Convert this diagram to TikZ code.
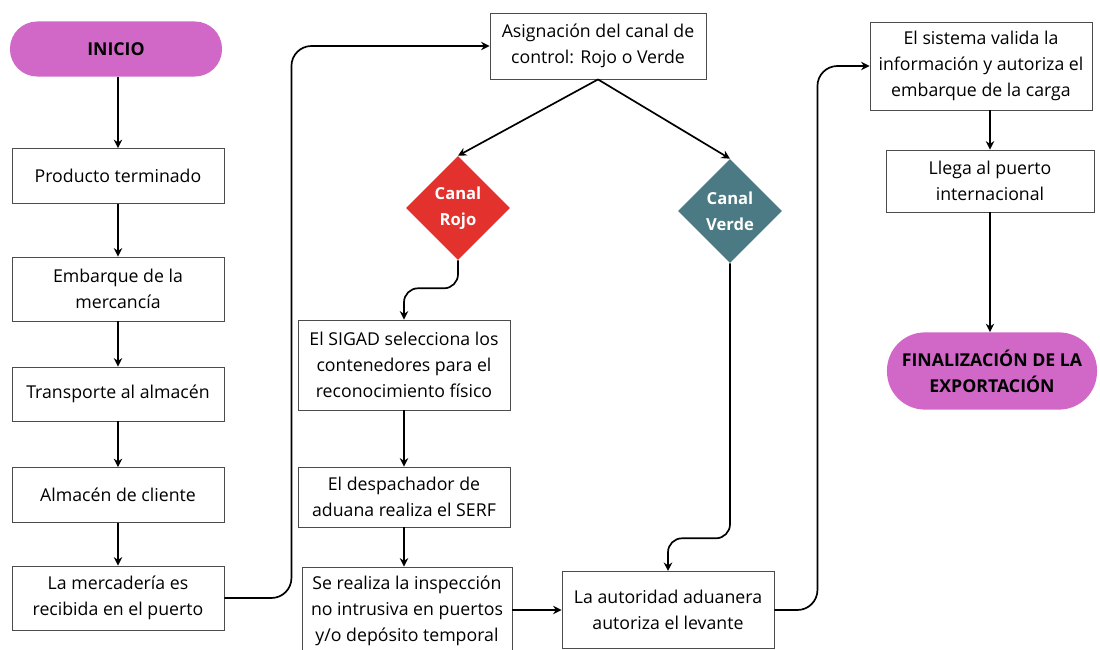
\documentclass[tikz,border=0pt]{standalone}
\usepackage{fontspec}
\setmainfont{Open Sans}
\usetikzlibrary{shapes.geometric,arrows.meta}

\definecolor{pillmag}{HTML}{D167C7}
\definecolor{canalrojo}{HTML}{E3312E}
\definecolor{canalverde}{HTML}{4B7A84}

\tikzset{
  caja/.style={draw=black!70, line width=0.6pt, fill=white, align=center,
    minimum width=5.3cm, inner sep=1pt, font=\fontsize{12.6}{18.5}\selectfont},
  pildora/.style={fill=pillmag, align=center, minimum width=5.3cm,
    font=\fontsize{12.6}{18.5}\selectfont\bfseries},
  rombo/.style={diamond, minimum width=2.6cm, minimum height=2.6cm, inner sep=0pt,
    text=white, align=center, font=\fontsize{11.8}{18.5}\selectfont\bfseries},
  flecha/.style={-{Stealth[length=6pt,width=6pt]}, line width=1.2pt},
}

\begin{document}
\begin{tikzpicture}[x=0.025cm, y=-0.025cm]
        \useasboundingbox (0,0) rectangle (1100,650);

        % columna izquierda
        \node[pildora, rounded corners=0.68cm, minimum height=1.375cm] (inicio) at (116,49) {INICIO};
        \node[caja, minimum height=1.375cm] (prod) at (118,176) {Producto terminado};
        \node[caja, minimum height=1.6cm] (emb) at (118,289) {Embarque de la\\mercancía};
        \node[caja, minimum height=1.35cm] (trans) at (118,394) {Transporte al almacén};
        \node[caja, minimum height=1.375cm] (alm) at (118,495) {Almacén de cliente};
        \node[caja, minimum height=1.6cm] (merc) at (118,598) {La mercadería es\\recibida en el puerto};

        % canal de control
        \node[caja, minimum width=5.4cm, minimum height=1.65cm] (asig) at (598,46) {Asignación del canal de\\control: Rojo o Verde};
        \node[rombo, fill=canalrojo] (rojo) at (458,208) {Canal\\Rojo};
        \node[rombo, fill=canalverde] (verde) at (730,211) {Canal\\Verde};

        \node[caja, minimum height=2.25cm] (sigad) at (404,365) {El SIGAD selecciona los\\contenedores para el\\reconocimiento físico};
        \node[caja, minimum height=1.5cm] (desp) at (404,497) {El despachador de\\aduana realiza el SERF};
        \node[caja, minimum width=5.25cm, minimum height=2.2cm] (insp) at (407,611) {Se realiza la inspección\\no intrusiva en puertos\\y/o depósito temporal};
        \node[caja, minimum height=1.93cm] (aut) at (668,610) {La autoridad aduanera\\autoriza el levante};

        % columna derecha
        \node[caja, minimum width=5.55cm, minimum height=2.2cm] (sist) at (981,66) {El sistema valida la\\información y autoriza el\\embarque de la carga};
        \node[caja, minimum width=5.2cm, minimum height=1.55cm] (llega) at (990,181) {Llega al puerto\\internacional};
        \node[pildora, rounded corners=0.95cm, minimum width=5.25cm, minimum height=1.93cm] (fin) at (992,371) {FINALIZACIÓN DE LA\\EXPORTACIÓN};

        \draw[flecha] (inicio.south -| prod.north) -- (prod.north);
        \draw[flecha] (prod) -- (emb);
        \draw[flecha] (emb) -- (trans);
        \draw[flecha] (trans) -- (alm);
        \draw[flecha] (alm) -- (merc);
        \draw[flecha, rounded corners=0.5cm] (merc.east) -- ++(67,0) |- (asig.west);

        \draw[flecha] (asig.south) -- (rojo.north);
        \draw[flecha] (asig.south) -- (verde.north);
        \draw[flecha, rounded corners=0.35cm] (rojo.south) -- ++(0,28) -| (sigad.north);
        \draw[flecha] (sigad) -- (desp);
        \draw[flecha] (desp.south) -- (desp.south |- insp.north);
        \draw[flecha, rounded corners=0.35cm] (verde.south) -- ++(0,275) -| (aut.north);
        \draw[flecha] (insp.east |- aut.west) -- (aut.west);
        \draw[flecha, rounded corners=0.5cm] (aut.east) -- ++(43,0) |- (sist.west);

        \draw[flecha] (sist.south -| llega.north) -- (llega.north);
        \draw[flecha] (llega.south) -- (llega.south |- fin.north);
    \end{tikzpicture}
\end{document}
